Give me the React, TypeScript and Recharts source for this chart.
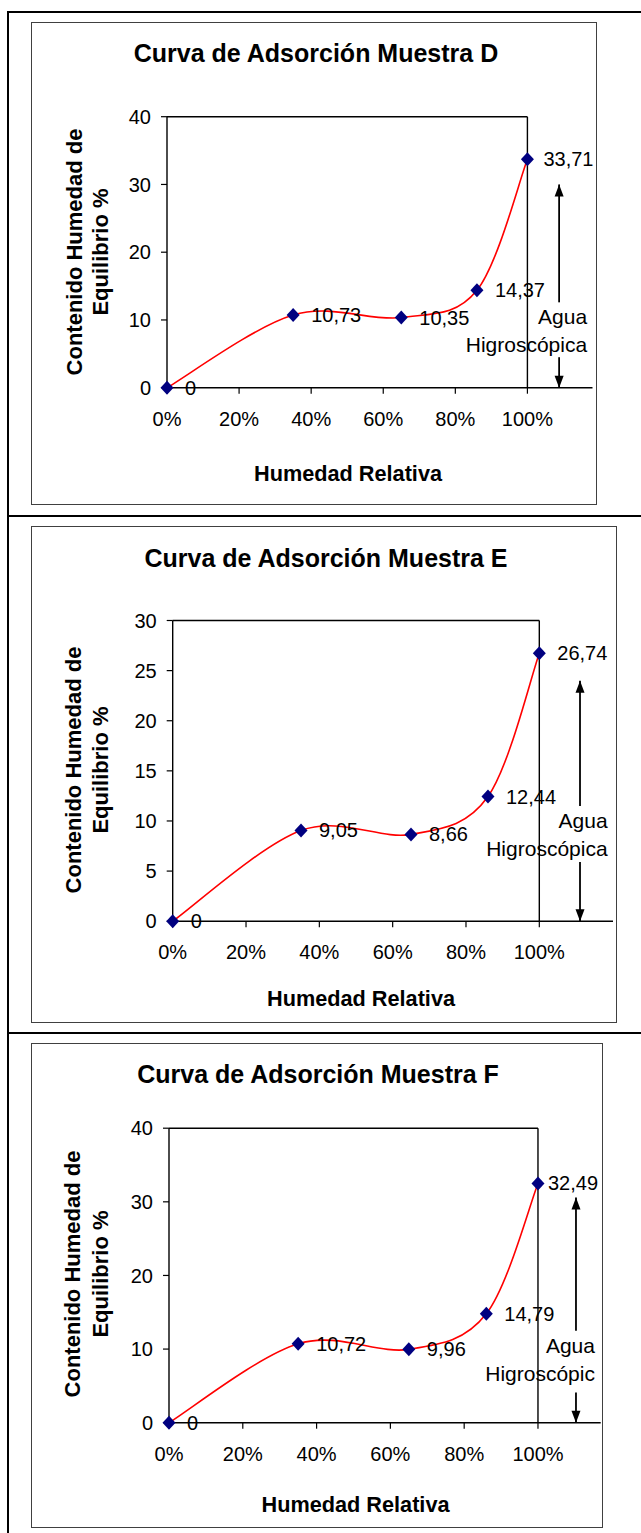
import React from 'react';
import { LineChart, Line, XAxis, YAxis, ReferenceLine, ReferenceDot, LabelList } from 'recharts';

// ---------- data ----------
const humedadRelativa = [0, 0.35, 0.65, 0.86, 1.0];
const muestraD = [0, 10.73, 10.35, 14.37, 33.71];
const muestraE = [0, 9.05, 8.66, 12.44, 26.74];
const muestraF = [0, 10.72, 9.96, 14.79, 32.49];
const xTicks = [0, 0.2, 0.4, 0.6, 0.8, 1.0];
const yTicksD = [0, 10, 20, 30, 40];
const yTicksE = [0, 5, 10, 15, 20, 25, 30];
const yTicksF = [0, 10, 20, 30, 40];
const titleD = 'Curva de Adsorción Muestra D';
const titleE = 'Curva de Adsorción Muestra E';
const titleF = 'Curva de Adsorción Muestra F';
const xAxisTitle = 'Humedad Relativa';
const yAxisTitle = ['Contenido Humedad de', 'Equilibrio %'];
const arrowTextFull = ['Agua', 'Higroscópica'];
const arrowTextCut = ['Agua', 'Higroscópic'];

const FONT = '"Liberation Sans", Arial, Helvetica, sans-serif';

// Spreadsheet-style smoothed line: Bezier segments with 1/6 tangents,
// endpoints use the chord direction.
function smoothCurve(context: any) {
  let pts: number[][] = [];
  const k = 1 / 6;
  return {
    areaStart() {},
    areaEnd() {},
    lineStart() { pts = []; },
    point(x: number, y: number) { pts.push([+x, +y]); },
    lineEnd() {
      if (!pts.length) return;
      context.moveTo(pts[0][0], pts[0][1]);
      for (let i = 0; i < pts.length - 1; i++) {
        const p0 = pts[i - 1] || pts[i];
        const p1 = pts[i];
        const p2 = pts[i + 1];
        const p3 = pts[i + 2] || pts[i + 1];
        context.bezierCurveTo(
          p1[0] + k * (p2[0] - p0[0]), p1[1] + k * (p2[1] - p0[1]),
          p2[0] - k * (p3[0] - p1[0]), p2[1] - k * (p3[1] - p1[1]),
          p2[0], p2[1]
        );
      }
    },
  };
}

const Diamond = (p: any) => {
  const { cx, cy } = p;
  if (cx == null || cy == null) return null;
  const sx = 6.5, sy = 7;
  return (
    <polygon
      key={`d-${cx}-${cy}`}
      points={`${cx},${cy - sy} ${cx + sx},${cy} ${cx},${cy + sy} ${cx - sx},${cy}`}
      fill="#000080"
    />
  );
};

const fmt = (v: number) => String(v).replace('.', ',');

type PanelCfg = {
  values: number[];
  yTicks: number[];
  yMax: number;
  xEnd: number;
  box: { left: number; top: number; w: number; h: number };
  margin: { left: number; right: number; top: number; bottom: number };
  arrowX: number;
  arrowTop: number;
  arrowUpperEnd: number;
  arrowLowerStart: number;
  arrowTextY: number;
  arrowTextDx: number;
  arrowText: string[];
  lastLabelDx: number;
};

function Panel({ cfg }: { cfg: PanelCfg }) {
  const data = humedadRelativa.map((x, i) => ({ x, y: cfg.values[i] }));
  const n = data.length;
  const renderLabel = (p: any) => {
    const vb = p.viewBox || {};
    const x = p.x ?? vb.x;
    const y = p.y ?? vb.y;
    const dx = p.index === n - 1 ? cfg.lastLabelDx : 18;
    return (
      <text
        x={x + dx}
        y={y}
        dominantBaseline="central"
        fontSize={20}
        fontFamily={FONT}
        fill="#000"
      >
        {fmt(p.value)}
      </text>
    );
  };
  const head = (dir: 'up' | 'down') => (p: any) => {
    const { cx, cy } = p;
    if (cx == null || cy == null) return null;
    const L = 12, W = 4.5;
    const pts = dir === 'up'
      ? `${cx},${cy} ${cx - W},${cy + L} ${cx + W},${cy + L}`
      : `${cx},${cy} ${cx - W},${cy - L} ${cx + W},${cy - L}`;
    return <polygon points={pts} fill="#000" />;
  };
  const arrowText = (p: any) => {
    const { cx, cy } = p;
    if (cx == null || cy == null) return null;
    return (
      <g>
        <text x={cx + cfg.arrowTextDx} y={cy} textAnchor="end" dominantBaseline="central" fontSize={21} fontFamily={FONT} fill="#000">{cfg.arrowText[0]}</text>
        <text x={cx + cfg.arrowTextDx} y={cy + 28} textAnchor="end" dominantBaseline="central" fontSize={21} fontFamily={FONT} fill="#000">{cfg.arrowText[1]}</text>
      </g>
    );
  };
  const b = cfg.box;
  return (
    <>
      <div style={{ position: 'absolute', left: b.left, top: b.top, width: b.w, height: b.h, border: '1.5px solid #404040', boxSizing: 'border-box' }} />
      <div style={{ position: 'absolute', left: b.left, top: b.top, width: b.w, height: b.h }}>
        <LineChart width={b.w} height={b.h} data={data} margin={cfg.margin}>
          <XAxis
            type="number"
            dataKey="x"
            domain={[0, cfg.xEnd]}
            ticks={xTicks}
            interval={0}
            tickFormatter={(v: number) => `${Math.round(v * 100)}%`}
            axisLine={{ stroke: '#000', strokeWidth: 1.4 }}
            tickLine={{ stroke: '#000', strokeWidth: 1.2 }}
            tickSize={6}
            tickMargin={18}
            height={40}
            tick={{ fill: '#000', fontSize: 20, fontFamily: FONT }}
          />
          <YAxis
            type="number"
            domain={[0, cfg.yMax]}
            ticks={cfg.yTicks}
            interval={0}
            axisLine={{ stroke: '#000', strokeWidth: 1.4 }}
            tickLine={{ stroke: '#000', strokeWidth: 1.2 }}
            tickSize={6}
            tickMargin={10}
            width={60}
            tick={{ fill: '#000', fontSize: 20, fontFamily: FONT }}
          />
          <ReferenceLine segment={[{ x: 0, y: cfg.yMax }, { x: 1, y: cfg.yMax }]} stroke="#000" strokeWidth={1.4} />
          <ReferenceLine segment={[{ x: 1, y: 0 }, { x: 1, y: cfg.yMax }]} stroke="#000" strokeWidth={1.4} />
          <ReferenceLine segment={[{ x: cfg.arrowX, y: cfg.arrowTop }, { x: cfg.arrowX, y: cfg.arrowUpperEnd }]} stroke="#000" strokeWidth={1.8} />
          <ReferenceLine segment={[{ x: cfg.arrowX, y: cfg.arrowLowerStart }, { x: cfg.arrowX, y: 0 }]} stroke="#000" strokeWidth={1.8} />
          <ReferenceDot x={cfg.arrowX} y={cfg.arrowTop} r={0} shape={head('up')} />
          <ReferenceDot x={cfg.arrowX} y={0} r={0} shape={head('down')} />
          <ReferenceDot x={cfg.arrowX} y={cfg.arrowTextY} r={0} shape={arrowText} />
          <Line
            type={smoothCurve as any}
            dataKey="y"
            stroke="#ff0000"
            strokeWidth={1.6}
            dot={Diamond}
            activeDot={false}
            isAnimationActive={false}
          >
            <LabelList dataKey="y" content={renderLabel} />
          </Line>
        </LineChart>
      </div>
    </>
  );
}

const cfgD: PanelCfg = {
  values: muestraD, yTicks: yTicksD, yMax: 40, xEnd: 1.1806,
  box: { left: 31, top: 22, w: 566, h: 483 },
  margin: { left: 76, right: 4.5, top: 94.7, bottom: 77.3 },
  arrowX: 1.088, arrowTop: 30, arrowUpperEnd: 12.6, arrowLowerStart: 4.5,
  arrowTextY: 10.58, arrowTextDx: 28, arrowText: arrowTextFull, lastLabelDx: 16,
};
const cfgE: PanelCfg = {
  values: muestraE, yTicks: yTicksE, yMax: 30, xEnd: 1.201,
  box: { left: 31, top: 525.5, w: 586, h: 497 },
  margin: { left: 81.7, right: 4, top: 94.5, bottom: 61.8 },
  arrowX: 1.111, arrowTop: 24, arrowUpperEnd: 11.5, arrowLowerStart: 5.9,
  arrowTextY: 10.05, arrowTextDx: 27.6, arrowText: arrowTextFull, lastLabelDx: 18,
};
const cfgF: PanelCfg = {
  values: muestraF, yTicks: yTicksF, yMax: 40, xEnd: 1.17,
  box: { left: 31, top: 1042.5, w: 572, h: 485 },
  margin: { left: 78, right: 2.3, top: 85.2, bottom: 65.3 },
  arrowX: 1.103, arrowTop: 30.6, arrowUpperEnd: 12.5, arrowLowerStart: 4.1,
  arrowTextY: 10.43, arrowTextDx: 19, arrowText: arrowTextCut, lastLabelDx: 10,
};

const texts = [
  { title: titleD, tx: 316, ty: 53, xx: 348, xy: 473, y1x: 74, y2x: 100, yy: 252 },
  { title: titleE, tx: 326, ty: 557.7, xx: 361, xy: 998, y1x: 73.6, y2x: 100, yy: 770 },
  { title: titleF, tx: 318, ty: 1074, xx: 355.5, xy: 1504, y1x: 72.8, y2x: 100, yy: 1274 },
];

export default function App() {
  return (
    <div style={{ position: 'absolute', left: 0, top: 0, width: 641, height: 1533, background: '#fff', overflow: 'hidden' }}>
      {/* table lines */}
      <div style={{ position: 'absolute', left: 7, top: 11, width: 2, height: 1522, background: '#000' }} />
      <div style={{ position: 'absolute', left: 7, top: 11, width: 634, height: 2, background: '#000' }} />
      <div style={{ position: 'absolute', left: 7, top: 515, width: 634, height: 2, background: '#000' }} />
      <div style={{ position: 'absolute', left: 7, top: 1032, width: 634, height: 2, background: '#000' }} />

      <Panel cfg={cfgD} />
      <Panel cfg={cfgE} />
      <Panel cfg={cfgF} />

      <svg width={641} height={1533} style={{ position: 'absolute', left: 0, top: 0, pointerEvents: 'none' }}>
        {texts.map((t, i) => (
          <g key={i} fontFamily={FONT} fill="#000" fontWeight="bold">
            <text x={t.tx} y={t.ty} textAnchor="middle" dominantBaseline="central" fontSize={25}>{t.title}</text>
            <text x={t.xx} y={t.xy} textAnchor="middle" dominantBaseline="central" fontSize={21.7}>{xAxisTitle}</text>
            <text x={t.y1x} y={t.yy} textAnchor="middle" dominantBaseline="central" fontSize={22} transform={`rotate(-90 ${t.y1x} ${t.yy})`}>{yAxisTitle[0]}</text>
            <text x={t.y2x} y={t.yy} textAnchor="middle" dominantBaseline="central" fontSize={22} transform={`rotate(-90 ${t.y2x} ${t.yy})`}>{yAxisTitle[1]}</text>
          </g>
        ))}
      </svg>
    </div>
  );
}
